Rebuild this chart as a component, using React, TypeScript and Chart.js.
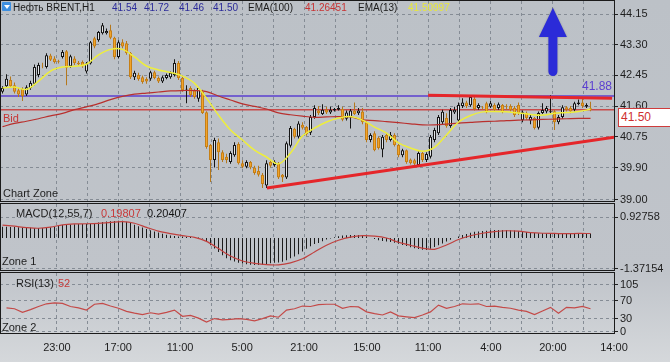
import React, { useEffect, useRef } from "react";
import { Chart, registerables } from "chart.js";

Chart.register(...registerables);

// ---------------- data (H1 candles, oldest first) ----------------
const opens = [
  42.0, 42.15, 42.32, 42.18, 42.04, 42.08, 41.92, 42.1, 42.22, 42.46,
  42.72, 42.68, 43.0, 42.92, 42.84, 42.96, 43.12, 42.7, 42.92, 42.8,
  42.82, 42.56, 42.78, 43.48, 43.42, 43.62, 43.62, 43.7, 43.49, 42.96,
  43.37, 43.34, 43.07, 42.4, 42.46, 42.4, 42.35, 42.36, 42.54, 42.38,
  42.28, 42.38, 42.4, 42.46, 42.79, 42.38, 42.06, 42.1, 42.04, 41.8,
  42.0, 41.43, 40.52, 40.11, 40.6, 40.32, 40.2, 40.05, 40.24, 40.55,
  40.02, 39.92, 40.05, 39.9, 39.8, 39.7, 39.4, 40.05, 39.97, 40.0,
  39.7, 39.62, 40.5, 40.97, 40.75, 41.08, 41.02, 40.86, 41.3, 41.48,
  41.38, 41.5, 41.42, 41.48, 41.5, 41.52, 41.25, 41.3, 41.48, 41.4,
  41.45, 41.15, 40.66, 40.85, 40.72, 40.4, 40.8, 40.66, 40.8, 40.52,
  40.24, 40.38, 40.12, 40.1, 39.97, 40.3, 40.11, 40.2, 40.66, 40.85,
  41.15, 41.27, 41.05, 41.42, 41.2, 41.6, 41.7, 41.62, 41.8, 41.55,
  41.56, 41.68, 41.58, 41.63, 41.55, 41.63, 41.6, 41.6, 41.55, 41.63,
  41.21, 41.41, 41.2, 41.27, 41.0, 41.41, 41.45, 41.43, 41.46, 41.15,
  41.3, 41.57, 41.55, 41.5, 41.66, 41.7, 41.58, 41.54,
];
const highs = [
  42.15, 42.48, 42.42, 42.25, 42.1, 42.12, 42.18, 42.3, 42.75, 42.8,
  42.8, 43.06, 43.05, 42.98, 42.88, 43.15, 43.15, 43.02, 42.98, 42.85,
  42.86, 42.82, 43.4, 43.52, 43.68, 43.9, 43.75, 43.85, 43.52, 43.42,
  43.45, 43.4, 43.1, 42.58, 42.52, 42.45, 42.4, 42.58, 42.58, 42.42,
  42.44, 42.5, 42.56, 42.9, 42.85, 42.42, 42.18, 42.15, 42.08, 42.12,
  42.05, 41.46, 40.55, 40.72, 40.7, 40.38, 40.28, 40.35, 40.6, 40.6,
  40.1, 40.1, 40.08, 39.95, 39.95, 39.75, 40.1, 40.12, 40.1, 40.05,
  39.72, 40.62, 41.05, 41.0, 41.18, 41.15, 41.05, 41.35, 41.62, 41.6,
  41.65, 41.58, 41.58, 41.55, 41.62, 41.58, 41.48, 41.52, 41.7, 41.55,
  41.55, 41.18, 40.85, 40.9, 40.76, 40.8, 40.85, 40.88, 40.85, 40.55,
  40.42, 40.4, 40.15, 40.14, 40.35, 40.35, 40.32, 40.8, 41.0, 41.35,
  41.5, 41.4, 41.55, 41.58, 41.7, 41.82, 41.75, 41.88, 41.85, 41.68,
  41.6, 41.72, 41.75, 41.68, 41.7, 41.66, 41.65, 41.65, 41.6, 41.7,
  41.48, 41.45, 41.35, 41.3, 41.45, 41.68, 41.6, 41.9, 41.5, 41.35,
  41.62, 41.6, 41.6, 41.72, 41.78, 41.8, 41.68, 41.72,
];
const lows = [
  41.95, 42.1, 42.1, 41.95, 41.85, 41.74, 41.88, 42.05, 42.18, 42.4,
  42.65, 42.64, 42.85, 42.78, 42.78, 42.92, 42.18, 42.66, 42.74, 42.72,
  42.66, 42.5, 42.75, 43.2, 43.38, 43.58, 43.58, 43.45, 42.9, 42.92,
  43.2, 43.02, 42.35, 42.32, 42.3, 42.22, 42.22, 42.3, 42.34, 42.24,
  42.24, 42.34, 42.36, 42.42, 42.32, 42.0, 41.68, 41.85, 41.8, 41.72,
  41.38, 40.42, 39.5, 39.9, 39.83, 40.05, 40.02, 40.0, 40.2, 39.98,
  39.88, 39.88, 39.85, 39.7, 39.65, 39.33, 39.33, 39.9, 39.92, 39.58,
  39.5, 39.58, 40.45, 40.7, 40.7, 40.95, 40.78, 40.8, 41.25, 41.35,
  41.35, 41.38, 41.38, 41.45, 41.48, 41.18, 41.2, 40.98, 41.35, 41.35,
  41.1, 40.6, 40.6, 40.35, 40.4, 40.18, 40.6, 40.62, 40.48, 40.18,
  40.18, 40.0, 39.98, 39.95, 39.92, 40.05, 40.05, 40.15, 40.6, 40.8,
  41.1, 41.0, 41.0, 41.38, 41.15, 41.55, 41.55, 41.58, 41.48, 41.5,
  41.5, 41.4, 41.55, 41.45, 41.5, 41.4, 41.5, 41.45, 41.3, 41.35,
  41.15, 41.22, 41.1, 40.95, 40.95, 41.38, 41.4, 41.4, 40.94, 41.1,
  41.25, 41.45, 41.4, 41.45, 41.62, 41.55, 41.55, 41.46,
];
const closes = [
  42.1, 42.36, 42.15, 42.0, 41.92, 41.88, 42.12, 42.24, 42.68, 42.74,
  42.7, 43.01, 42.88, 42.82, 42.82, 43.1, 42.66, 42.98, 42.79, 42.76,
  42.7, 42.78, 43.37, 43.25, 43.65, 43.84, 43.68, 43.49, 42.96, 43.37,
  43.25, 43.07, 42.4, 42.52, 42.34, 42.27, 42.28, 42.54, 42.38, 42.28,
  42.4, 42.46, 42.52, 42.79, 42.38, 42.04, 42.08, 41.91, 41.85, 42.1,
  41.41, 40.47, 40.11, 40.66, 40.32, 40.11, 40.11, 40.3, 40.52, 40.02,
  39.92, 40.05, 39.9, 39.75, 39.7, 39.44, 40.02, 39.95, 40.06, 39.62,
  39.62, 40.57, 40.99, 40.75, 41.12, 41.0, 40.82, 41.3, 41.55, 41.4,
  41.5, 41.42, 41.5, 41.52, 41.55, 41.22, 41.42, 41.48, 41.38, 41.48,
  41.15, 40.66, 40.8, 40.38, 40.44, 40.75, 40.66, 40.8, 40.52, 40.24,
  40.38, 40.05, 40.02, 40.0, 40.3, 40.11, 40.27, 40.75, 40.94, 41.3,
  41.44, 41.05, 41.49, 41.5, 41.63, 41.7, 41.6, 41.85, 41.52, 41.63,
  41.55, 41.43, 41.68, 41.49, 41.65, 41.43, 41.58, 41.49, 41.35, 41.41,
  41.43, 41.27, 41.3, 40.99, 41.41, 41.49, 41.55, 41.46, 41.15, 41.3,
  41.57, 41.5, 41.45, 41.68, 41.7, 41.6, 41.63, 41.5,
];

// indicator lines, read every LINE_STEP bars starting at bar 0
const LINE_STEP = 3;
const ema13 = [
  42.1, 42.13, 42.06, 42.29, 42.57, 42.68, 42.7, 42.76, 43.02, 43.17,
  43.17, 42.96, 42.71, 42.6, 42.53, 42.43, 42.23, 41.82, 41.35, 40.94,
  40.66, 40.38, 40.19, 40.0, 40.3, 40.77, 40.99, 41.16, 41.27, 41.31,
  41.21, 41.02, 40.85, 40.58, 40.44, 40.35, 40.46, 40.8, 41.16, 41.34,
  41.44, 41.45, 41.44, 41.41, 41.37, 41.35, 41.4, 41.42, 41.45, 41.51,
];
const ema100 = [
  41.03, 41.12, 41.18, 41.25, 41.33, 41.4, 41.5, 41.58, 41.67, 41.78,
  41.87, 41.93, 41.96, 41.99, 42.02, 42.03, 42.03, 42.0, 41.88, 41.77,
  41.66, 41.59, 41.52, 41.41, 41.36, 41.32, 41.29, 41.3, 41.31, 41.3,
  41.22, 41.2, 41.17, 41.14, 41.11, 41.08, 41.08, 41.1, 41.13, 41.15,
  41.17, 41.18, 41.2, 41.21, 41.22, 41.23, 41.24, 41.25, 41.26, 41.26,
];
const macdSignal = [
  0.57, 0.52, 0.46, 0.43, 0.48, 0.58, 0.62, 0.63, 0.65, 0.69,
  0.72, 0.65, 0.47, 0.3, 0.19, 0.1, 0.03, -0.15, -0.47, -0.8,
  -1.02, -1.12, -1.18, -1.19, -1.1, -0.92, -0.62, -0.32, -0.1, 0.04,
  0.1, 0.08, 0.0, -0.19, -0.32, -0.45, -0.5, -0.31, -0.07, 0.1,
  0.21, 0.28, 0.32, 0.3, 0.24, 0.21, 0.2, 0.19, 0.2, 0.198,
];
// MACD histogram, one per bar
const macdHist = [
  0.5, 0.5, 0.49, 0.48, 0.47, 0.46, 0.45, 0.45, 0.44,
  0.44, 0.44, 0.45, 0.47, 0.5,
  0.54, 0.57, 0.59, 0.6, 0.61, 0.62, 0.62, 0.62, 0.63, 0.65, 0.68, 0.71,
  0.73, 0.74, 0.75, 0.76, 0.76,
  0.72, 0.66, 0.58, 0.52, 0.46,
  0.4, 0.34, 0.29, 0.24, 0.19,
  0.14, 0.11, 0.09, 0.07, 0.06,
  0.05, 0.04, 0.03, 0.02, -0.02,
  -0.14, -0.32, -0.47, -0.62, -0.76,
  -0.9, -0.98, -1.04, -1.09, -1.13,
  -1.16, -1.18, -1.19, -1.19, -1.2, -1.18,
  -1.12, -1.1, -1.08, -1.05, -0.98, -0.9,
  -0.82, -0.72, -0.6, -0.48, -0.37, -0.27,
  -0.22, -0.14, -0.07, -0.02, 0.03, 0.08,
  0.11, 0.12, 0.13, 0.13, 0.13, 0.11, 0.06,
  0.0, -0.05, -0.1, -0.13, -0.16, -0.18, -0.21,
  -0.26, -0.31, -0.36, -0.41, -0.45, -0.49, -0.52, -0.53,
  -0.48, -0.4, -0.32, -0.24, -0.16, -0.08, 0.0,
  0.07, 0.13, 0.18, 0.23, 0.27, 0.29, 0.31, 0.32,
  0.34, 0.35, 0.35, 0.35, 0.35, 0.34, 0.33, 0.31,
  0.28, 0.26, 0.24, 0.22, 0.21, 0.21, 0.2,
  0.2, 0.19, 0.19, 0.19, 0.2, 0.2, 0.2, 0.2, 0.21, 0.2, 0.2,
];
// RSI(13), read every RSI_STEP bars starting at bar RSI_FIRST
const RSI_FIRST = 1;
const RSI_STEP = 2;
const rsi13 = [
  54, 52, 44, 50, 57, 63, 65, 64, 57, 54,
  49, 62, 64, 58, 53, 46, 42, 39, 43, 40,
  44, 49, 35, 37, 31, 22, 30, 27, 28, 30,
  28, 25, 30, 36, 33, 49, 52, 58, 57, 61,
  62, 62,
  53, 57, 56, 45, 41, 38, 45, 36, 34, 32,
  38, 45, 60, 53, 57, 63, 62, 63, 57, 58,
  55, 53, 49, 46, 39, 47, 55, 42, 55, 54,
  57, 52,
];

const priceTicks = [39.0, 39.9, 40.75, 41.6, 42.45, 43.3, 44.15];
const macdTicks = [0.92758, -1.37154];
const rsiTicks = [105, 70, 30, 0];
const timeLabels = ["23:00", "17:00", "11:00", "5:00", "21:00", "15:00", "11:00", "4:00", "20:00", "14:00"];
const timeLabelAt = [13.6, 28.9, 44.4, 59.9, 75.4, 91.1, 106.4, 122.1, 137.6, 152.875];

const resistanceLevel = 41.88;
const bidPrice = 41.5;
const risingTrend = [
  { x: 66.1, y: 39.33 },
  { x: 152.875, y: 40.74 },
];
const topTrend = [
  { x: 106.4, y: 41.9 },
  { x: 152.4, y: 41.82 },
];
const upArrow = { x: 137.6, tip: 44.32, headBase: 43.51, tail: 42.43 };

// ---------------- styling / layout ----------------
const FONT = "'Liberation Sans', Arial, Helvetica, sans-serif";
const GRID = "#858c95";
const AXIS_TEXT = "#1e1e1e";
const X_MIN = -0.625;
const X_MAX = 152.875;
const AXIS_W = 56;

Chart.defaults.font.family = FONT;
Chart.defaults.font.size = 11;

const gridTicks: number[] = [];
timeLabelAt.forEach((v, k) => {
  if (k > 0) gridTicks.push((timeLabelAt[k - 1] + v) / 2);
  gridTicks.push(v);
});

function xScale(showLabels: boolean): any {
  return {
    type: "linear",
    min: X_MIN,
    max: X_MAX,
    offset: false,
    afterBuildTicks: (s: any) => {
      s.ticks = gridTicks.map((v) => ({ value: v }));
    },
    ticks: {
      display: showLabels,
      autoSkip: false,
      maxRotation: 0,
      minRotation: 0,
      padding: 8,
      color: AXIS_TEXT,
      font: { size: 11, family: FONT },
      callback: (_v: any, i: number) => (i % 2 === 0 ? timeLabels[i / 2] : ""),
    },
    grid: { color: GRID, lineWidth: 1, drawTicks: false, offset: false },
    border: { display: false, dash: [3, 3] },
    afterFit: (s: any) => {
      s.height = showLabels ? 29 : 0;
      s.paddingLeft = 0;
      s.paddingRight = 0;
    },
  };
}

function yScale(min: number, max: number, ticks: number[], fmt: (v: number) => string): any {
  return {
    type: "linear",
    position: "right",
    min,
    max,
    beginAtZero: false,
    afterBuildTicks: (s: any) => {
      s.ticks = ticks.map((v) => ({ value: v }));
    },
    ticks: {
      autoSkip: false,
      padding: 2,
      color: AXIS_TEXT,
      font: { size: 11, family: FONT },
      callback: (v: any) => fmt(Number(v)),
    },
    grid: {
      color: GRID,
      lineWidth: 1,
      drawTicks: true,
      tickLength: 4,
      tickColor: "#222",
      tickBorderDash: [],
    },
    border: { display: false, dash: [3, 3] },
    afterFit: (s: any) => {
      s.width = AXIS_W;
      s.paddingTop = 0;
      s.paddingBottom = 0;
    },
  };
}

const framePlugin = {
  id: "panelFrame",
  afterDraw(chart: any) {
    const { ctx, chartArea: a } = chart;
    ctx.save();
    ctx.strokeStyle = "#1b1b1b";
    ctx.lineWidth = 1;
    ctx.setLineDash([]);
    ctx.strokeRect(a.left + 0.5, a.top - 0.5, a.right - a.left, a.bottom - a.top + 1);
    ctx.restore();
  },
};

const arrowPlugin = {
  id: "upArrow",
  afterDatasetsDraw(chart: any) {
    const { ctx } = chart;
    const x = chart.scales.x;
    const y = chart.scales.y;
    const cx = x.getPixelForValue(upArrow.x);
    const tip = y.getPixelForValue(upArrow.tip);
    const base = y.getPixelForValue(upArrow.headBase);
    const tail = y.getPixelForValue(upArrow.tail);
    const hw = 14;
    const sw = 4.5;
    ctx.save();
    ctx.fillStyle = "#2b2bd8";
    ctx.shadowColor = "rgba(0,0,0,0.25)";
    ctx.shadowBlur = 2;
    ctx.beginPath();
    ctx.moveTo(cx, tip);
    ctx.lineTo(cx + hw, base);
    ctx.lineTo(cx + sw, base);
    ctx.lineTo(cx + sw, tail - sw);
    ctx.arc(cx, tail - sw, sw, 0, Math.PI);
    ctx.lineTo(cx - sw, base);
    ctx.lineTo(cx - hw, base);
    ctx.closePath();
    ctx.fill();
    ctx.restore();
  },
};

const baseOptions = (padTop: number, padBottom: number): any => ({
  responsive: false,
  maintainAspectRatio: false,
  animation: false,
  events: [],
  layout: { padding: { top: padTop, bottom: padBottom, left: 0, right: 0 } },
  plugins: { legend: { display: false }, tooltip: { enabled: false }, title: { display: false } },
});

function mainConfig(): any {
  const idx = opens.map((_, i) => i);
  const up = (i: number) => closes[i] >= opens[i];
  const line = (data: any[], color: string, width: number, order: number, tension = 0) => ({
    type: "line",
    data,
    borderColor: color,
    borderWidth: width,
    pointRadius: 0,
    fill: false,
    tension,
    order,
  });
  return {
    type: "bar",
    data: {
      datasets: [
        { label: "Trend", ...line(risingTrend, "#e5262a", 3, 0) },
        { label: "Resistance", ...line(topTrend, "#e5262a", 3, 0) },
        { label: "EMA(13)", ...line(ema13.map((v, k) => ({ x: k * LINE_STEP, y: v })), "#eeee3c", 1.5, 1, 0.35) },
        { label: "EMA(100)", ...line(ema100.map((v, k) => ({ x: k * LINE_STEP, y: v })), "#b9302e", 1.2, 2, 0.35) },
        {
          label: "Body",
          type: "bar",
          data: idx.map((i) => ({ x: i, y: [opens[i], closes[i]] })),
          backgroundColor: idx.map((i) => (up(i) ? "#e4e6e9" : "#f2a42a")),
          borderColor: idx.map((i) => (up(i) ? "#161616" : "#c67f16")),
          borderWidth: 1,
          borderSkipped: false,
          barThickness: 3,
          grouped: false,
          inflateAmount: 0,
          order: 3,
        },
        {
          label: "Wick",
          type: "bar",
          data: idx.map((i) => ({ x: i, y: [lows[i], highs[i]] })),
          backgroundColor: idx.map((i) => (up(i) ? "#161616" : "#b5781c")),
          borderWidth: 0,
          barThickness: 1,
          grouped: false,
          inflateAmount: 0,
          order: 4,
        },
        {
          label: "Level",
          ...line(
            [
              { x: X_MIN, y: resistanceLevel },
              { x: X_MAX, y: resistanceLevel },
            ],
            "#5b3fd0",
            1.5,
            5
          ),
        },
        {
          label: "Bid",
          ...line(
            [
              { x: X_MIN, y: bidPrice },
              { x: X_MAX, y: bidPrice },
            ],
            "#c94a4a",
            1.5,
            5
          ),
        },
      ],
    },
    options: {
      ...baseOptions(1, 2),
      scales: {
        x: xScale(false),
        y: yScale(38.972, 44.51, priceTicks, (v) => v.toFixed(2)),
      },
    },
    plugins: [framePlugin, arrowPlugin],
  };
}

function macdConfig(): any {
  return {
    type: "bar",
    data: {
      datasets: [
        {
          label: "Signal",
          type: "line",
          data: macdSignal.map((v, k) => ({ x: k * LINE_STEP, y: v })),
          borderColor: "#c0413f",
          borderWidth: 1.2,
          pointRadius: 0,
          tension: 0.3,
          order: 0,
        },
        {
          label: "MACD",
          type: "bar",
          data: macdHist.map((v, i) => ({ x: i, y: v })),
          backgroundColor: "#1c1c1c",
          barThickness: 1,
          grouped: false,
          inflateAmount: 0,
          order: 1,
        },
      ],
    },
    options: {
      ...baseOptions(1, 2),
      scales: {
        x: xScale(false),
        y: yScale(-1.4158, 1.5024, macdTicks, (v) => String(v)),
      },
    },
    plugins: [framePlugin],
  };
}

function rsiConfig(): any {
  return {
    type: "line",
    data: {
      datasets: [
        {
          label: "RSI(13)",
          data: rsi13.map((v, k) => ({ x: RSI_FIRST + k * RSI_STEP, y: v })),
          borderColor: "#c44a48",
          borderWidth: 1.2,
          pointRadius: 0,
          tension: 0,
        },
      ],
    },
    options: {
      ...baseOptions(1, 0),
      scales: {
        x: xScale(true),
        y: yScale(-2.234, 131.8, rsiTicks, (v) => String(v)),
      },
    },
    plugins: [framePlugin],
  };
}

function Txt(props: { left?: number; right?: number; top: number; color: string; size?: number; children: any }) {
  const size = props.size ?? 11;
  return (
    <div
      style={{
        position: "absolute",
        left: props.left,
        right: props.right,
        top: props.top,
        color: props.color,
        fontSize: size,
        lineHeight: `${size + 1}px`,
        whiteSpace: "nowrap",
        fontFamily: FONT,
      }}
    >
      {props.children}
    </div>
  );
}

export default function App() {
  const mainRef = useRef<HTMLCanvasElement>(null);
  const macdRef = useRef<HTMLCanvasElement>(null);
  const rsiRef = useRef<HTMLCanvasElement>(null);

  useEffect(() => {
    const charts = [
      new Chart(mainRef.current as HTMLCanvasElement, mainConfig()),
      new Chart(macdRef.current as HTMLCanvasElement, macdConfig()),
      new Chart(rsiRef.current as HTMLCanvasElement, rsiConfig()),
    ];
    return () => charts.forEach((c) => c.destroy());
  }, []);

  return (
    <div
      style={{
        position: "fixed",
        left: 0,
        top: 0,
        width: 670,
        height: 362,
        overflow: "hidden",
        background: "linear-gradient(180deg, #bcc1c7 0%, #c0c4ca 75%, #d5d8db 100%)",
        fontFamily: FONT,
      }}
    >
      <canvas ref={mainRef} width={670} height={203} style={{ position: "absolute", left: 0, top: 0 }} />
      <canvas ref={macdRef} width={670} height={69} style={{ position: "absolute", left: 0, top: 203 }} />
      <canvas ref={rsiRef} width={670} height={90} style={{ position: "absolute", left: 0, top: 272 }} />

      {/* header */}
      <div
        style={{
          position: "absolute",
          left: 2,
          top: 2,
          width: 9,
          height: 9,
          background: "#3d8fe0",
          borderRadius: 1,
        }}
      >
        <div
          style={{
            position: "absolute",
            left: 1.5,
            top: 2.5,
            width: 0,
            height: 0,
            borderLeft: "3px solid transparent",
            borderRight: "3px solid transparent",
            borderTop: "4px solid #ffffff",
          }}
        />
      </div>
      <Txt left={13} top={2} color="#1a1a1a" size={10}>Нефть BRENT,H1</Txt>
      <Txt left={112} top={2} color="#2b2b9a" size={10}>41.54</Txt>
      <Txt left={144} top={2} color="#2b2b9a" size={10}>41.72</Txt>
      <Txt left={179} top={2} color="#2b2b9a" size={10}>41.46</Txt>
      <Txt left={213} top={2} color="#2b2b9a" size={10}>41.50</Txt>
      <Txt left={248} top={2} color="#1a1a1a" size={10}>EMA(100)</Txt>
      <Txt left={305} top={2} color="#c83232" size={10}>41.26451</Txt>
      <Txt left={358} top={2} color="#1a1a1a" size={10}>EMA(13)</Txt>
      <Txt left={408} top={2} color="#e8e83a" size={10}>41.50997</Txt>

      <Txt left={3} top={112} color="#c83434">Bid</Txt>
      <Txt left={3} top={187} color="#1e1e1e">Chart Zone</Txt>
      <Txt right={58} top={80} color="#5b3fd0" size={12}>41.88</Txt>

      <div
        style={{
          position: "absolute",
          left: 618,
          top: 108,
          width: 56,
          height: 19,
          boxSizing: "border-box",
          border: "1px solid #cf3b3b",
          background: "#ffffff",
          color: "#cf2f2f",
          fontSize: 12,
          lineHeight: "17px",
          paddingLeft: 2,
          fontFamily: FONT,
        }}
      >
        41.50
      </div>

      <Txt left={16} top={207} color="#1e1e1e">MACD(12,55,7)</Txt>
      <Txt left={101} top={207} color="#c83a3a">0.19807</Txt>
      <Txt left={147} top={207} color="#111111">0.20407</Txt>
      <Txt left={2} top={255} color="#1e1e1e">Zone 1</Txt>

      <Txt left={16} top={277} color="#1e1e1e">RSI(13)</Txt>
      <Txt left={58} top={277} color="#c83a3a">52</Txt>
      <Txt left={2} top={321} color="#1e1e1e">Zone 2</Txt>
    </div>
  );
}
